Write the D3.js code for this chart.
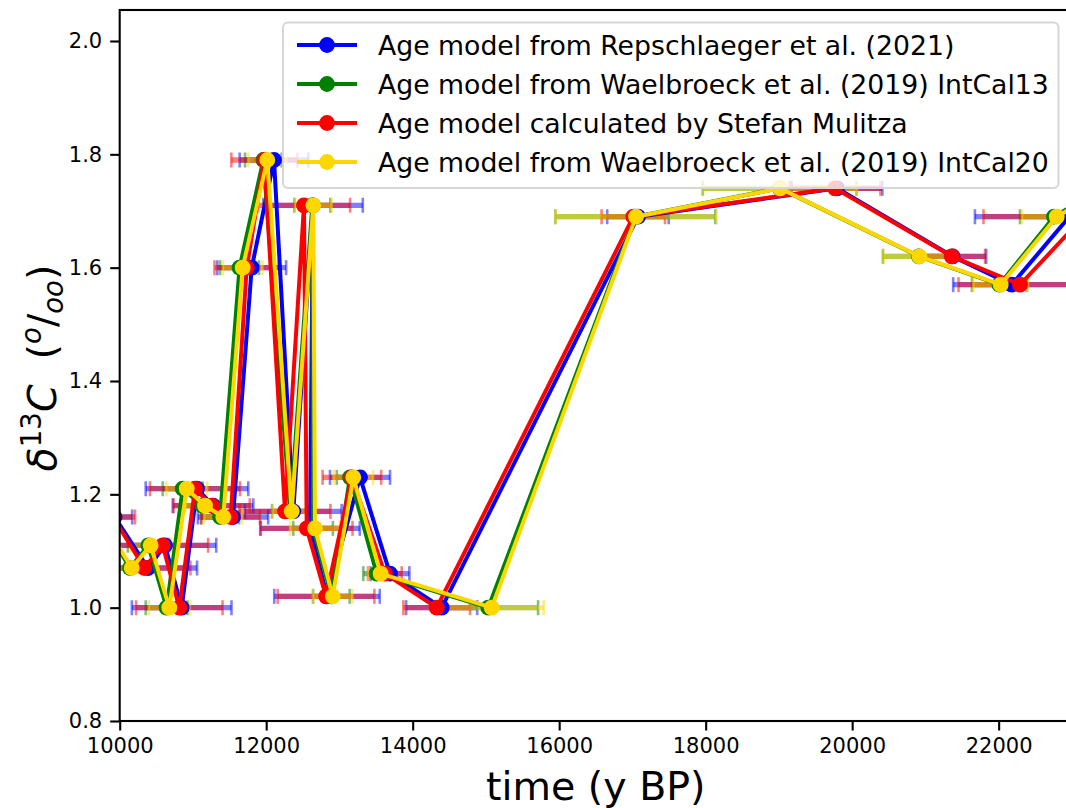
<!DOCTYPE html>
<html>
<head>
<meta charset="utf-8">
<script src="https://cdn.jsdelivr.net/npm/d3@7"></script>
<style>
  html, body { margin: 0; padding: 0; background: #fff; }
  svg { display: block; font-family: "DejaVu Sans", sans-serif; }
</style>
</head>
<body>
<svg id="chart" width="1066" height="808"></svg>
<script>
// ---------------- data ----------------
const d13C = [1.16, 1.07, 1.11, 1.00, 1.21, 1.18, 1.16, 1.60, 1.79, 1.17, 1.71, 1.14, 1.02, 1.23, 1.06, 1.00, 1.69, 1.74, 1.62, 1.57, 1.69, 1.75];

const ageRepschlaeger = [9930, 10386, 10618, 10846, 11055, 11274, 11547, 11802, 12107, 12370, 12639, 12598, 12830, 13281, 13690, 14396, 17076, 19793, 21370, 22179, 22966, 23900];
const errRepschlaeger = [240, 670, 700, 680, 700, 550, 480, 470, 470, 660, 680, 680, 720, 410, 265, 485, 420, 620, 460, 800, 1290, 800];

const ageIntCal13 = [9720, 10140, 10390, 10640, 10860, 11130, 11370, 11636, 11961, 12330, 12630, 12640, 12890, 13144, 13509, 15032, 17040, 19010, 20910, 22010, 22756, 23550];
const errIntCal13 = [250, 280, 280, 285, 273, 270, 260, 266, 250, 250, 245, 270, 250, 180, 183, 680, 1092, 1050, 490, 374, 465, 500];

const ageMulitza = [9909, 10336, 10587, 10814, 11028, 11256, 11515, 11734, 11974, 12257, 12516, 12553, 12817, 13170, 13620, 14328, 17012, 19766, 21359, 22292, 23163, 24100];
const errMulitza = [300, 630, 620, 590, 615, 520, 400, 440, 450, 620, 630, 626, 660, 400, 230, 455, 433, 620, 455, 840, 1370, 800];

const ageIntCal20 = [9741, 10164, 10423, 10677, 10915, 11165, 11414, 11679, 12015, 12348, 12643, 12666, 12908, 13189, 13563, 15079, 17049, 19015, 20917, 22028, 22793, 23600];
const errIntCal20 = [250, 280, 280, 280, 280, 270, 260, 270, 260, 260, 250, 340, 270, 270, 170, 710, 1100, 1050, 490, 374, 475, 500];

const seriesNames = [
  "Age model from Repschlaeger et al. (2021)",
  "Age model from Waelbroeck et al. (2019) IntCal13",
  "Age model calculated by Stefan Mulitza",
  "Age model from Waelbroeck et al. (2019) IntCal20"
];
const seriesColors = ["#0000ff", "#008000", "#ff0000", "#ffd700"];

const xTicks = [10000, 12000, 14000, 16000, 18000, 20000, 22000];
const yTicks = [0.8, 1.0, 1.2, 1.4, 1.6, 1.8, 2.0];

(function () {
const series = [
  { name: seriesNames[0], color: seriesColors[0], age: ageRepschlaeger, err: errRepschlaeger },
  { name: seriesNames[1], color: seriesColors[1], age: ageIntCal13, err: errIntCal13 },
  { name: seriesNames[2], color: seriesColors[2], age: ageMulitza, err: errMulitza },
  { name: seriesNames[3], color: seriesColors[3], age: ageIntCal20, err: errIntCal20 }
];

// ---------------- layout ----------------
const pL = 119.7, pR = 1071.9, pT = 10, pB = 721;
const x = d3.scaleLinear().domain([10000, 23000]).range([pL, pR]);
const y = d3.scaleLinear().domain([0.8, 2.0]).range([pB, 41]);

const svg = d3.select("#chart");

svg.append("defs").append("clipPath").attr("id", "plotclip")
  .append("rect").attr("x", pL).attr("y", pT).attr("width", pR - pL).attr("height", pB - pT);

const plot = svg.append("g").attr("clip-path", "url(#plotclip)");

// error bars (drawn beneath all lines)
series.forEach(s => {
  const g = plot.append("g").attr("stroke", s.color).attr("stroke-opacity", 0.5);
  d13C.forEach((v, i) => {
    const x0 = x(s.age[i] - s.err[i]), x1 = x(s.age[i] + s.err[i]), yy = y(v);
    g.append("line").attr("x1", x0).attr("x2", x1).attr("y1", yy).attr("y2", yy).attr("stroke-width", 5.3);
    [x0, x1].forEach(xc => {
      g.append("line").attr("x1", xc).attr("x2", xc).attr("y1", yy - 7.5).attr("y2", yy + 7.5).attr("stroke-width", 2.6);
    });
  });
});

// lines and markers
series.forEach(s => {
  const pts = d13C.map((v, i) => [s.age[i], v]);
  plot.append("path")
    .attr("d", d3.line().x(d => x(d[0])).y(d => y(d[1]))(pts))
    .attr("fill", "none").attr("stroke", s.color).attr("stroke-width", 4)
    .attr("stroke-linejoin", "round");
  plot.append("g").selectAll("circle").data(pts).join("circle")
    .attr("cx", d => x(d[0])).attr("cy", d => y(d[1])).attr("r", 7.9)
    .attr("fill", s.color);
});

// axes
const xAxis = svg.append("g").attr("transform", `translate(0,${pB})`)
  .call(d3.axisBottom(x).tickValues(xTicks).tickFormat(d3.format("d")).tickSize(9.5).tickPadding(8).tickSizeOuter(0));
const yAxis = svg.append("g").attr("transform", `translate(${pL},0)`)
  .call(d3.axisLeft(y).tickValues(yTicks).tickFormat(d3.format(".1f")).tickSize(9.5).tickPadding(8).tickSizeOuter(0));
[xAxis, yAxis].forEach(a => {
  a.selectAll("text").attr("font-size", 21).attr("font-family", "DejaVu Sans").attr("fill", "#000");
  a.selectAll(".tick line").attr("stroke", "#000").attr("stroke-width", 2.1);
  a.select(".domain").remove();
});

// spines
svg.append("rect").attr("x", pL).attr("y", pT).attr("width", pR - pL).attr("height", pB - pT)
  .attr("stroke", "#000").attr("stroke-width", 2.1).attr("fill", "none");

// axis labels
svg.append("text").attr("x", (pL + pR) / 2).attr("y", 800)
  .attr("text-anchor", "middle").attr("font-size", 39.5).text("time (y BP)");

const yl = svg.append("text").attr("transform", `translate(56,368) rotate(-90)`)
  .attr("text-anchor", "middle").attr("font-size", 39.5);
yl.append("tspan").attr("font-style", "italic").text("δ");
yl.append("tspan").attr("font-size", 27.6).attr("dy", -15).text("13");
yl.append("tspan").attr("font-style", "italic").attr("dy", 15).text("C");
yl.append("tspan").text("\u00a0\u00a0(");
yl.append("tspan").attr("font-size", 27.6).attr("font-style", "italic").attr("dy", -15).text("o");
yl.append("tspan").attr("dy", 15).text("/");
yl.append("tspan").attr("font-size", 27.6).attr("font-style", "italic").attr("dy", 7).text("oo");
yl.append("tspan").attr("dy", -7).text(")");

// legend
const lg = svg.append("g");
lg.append("rect").attr("x", 283).attr("y", 22.5).attr("width", 775.5).attr("height", 165.5)
  .attr("rx", 5).attr("fill", "#fff").attr("fill-opacity", 0.8)
  .attr("stroke", "#d6d6d6").attr("stroke-width", 2);
series.forEach((s, i) => {
  const cy = 45 + i * 39;
  lg.append("line").attr("x1", 297).attr("x2", 357).attr("y1", cy).attr("y2", cy)
    .attr("stroke", s.color).attr("stroke-width", 4);
  lg.append("circle").attr("cx", 327).attr("cy", cy).attr("r", 7.9).attr("fill", s.color);
  lg.append("text").attr("x", 378).attr("y", cy + 9.5).attr("font-size", 26.7).text(s.name);
});
})();
</script>
</body>
</html>
